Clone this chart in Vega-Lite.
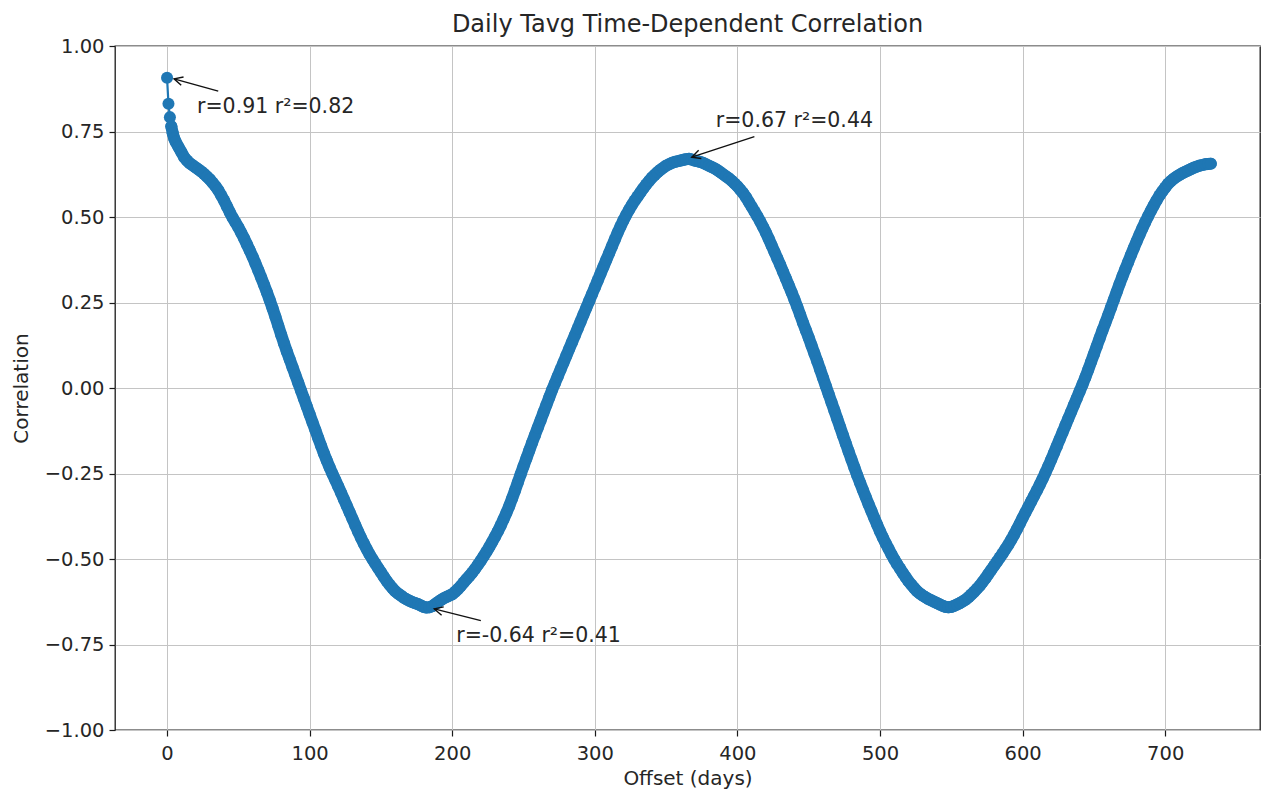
{
  "$schema": "https://vega.github.io/schema/vega-lite/v6.json",
  "width": 1145,
  "height": 684,
  "autosize": "none",
  "padding": {"left": 115, "top": 46, "right": 2, "bottom": 64},
  "background": "white",
  "title": {"text": "Daily Tavg Time-Dependent Correlation", "font": "DejaVu Sans", "fontSize": 24, "fontWeight": "normal", "color": "#262626", "offset": -1, "anchor": "middle"},
  "config": {
    "view": {"stroke": "#1a1a1a", "strokeWidth": 1.3},
    "axis": {
      "domain": false,
      "tickColor": "#1a1a1a",
      "tickSize": 6,
      "tickWidth": 1.2,
      "grid": true,
      "gridColor": "#c4c4c4",
      "gridWidth": 1,
      "labelFont": "DejaVu Sans",
      "labelFontSize": 19.5,
      "labelColor": "#262626",
      "labelPadding": 5,
      "titleFont": "DejaVu Sans",
      "titleFontSize": 20,
      "titleFontWeight": "normal",
      "titleColor": "#262626"
    }
  },
  "datasets": {
    "corr": [
      {"day":0,"r":0.907},{"day":1,"r":0.831},{"day":2,"r":0.792},{"day":3,"r":0.765},{"day":4,"r":0.745},{"day":5,"r":0.730},{"day":6,"r":0.720},
      {"day":8,"r":0.705},{"day":10,"r":0.690},{"day":12,"r":0.675},{"day":14,"r":0.665},{"day":16,"r":0.657},{"day":18,"r":0.651},{"day":20,"r":0.645},
      {"day":22,"r":0.639},{"day":24,"r":0.633},{"day":26,"r":0.626},{"day":28,"r":0.618},{"day":30,"r":0.610},{"day":32,"r":0.600},{"day":34,"r":0.590},
      {"day":36,"r":0.578},{"day":38,"r":0.563},{"day":40,"r":0.548},{"day":42,"r":0.531},{"day":44,"r":0.514},{"day":46,"r":0.498},{"day":48,"r":0.484},
      {"day":50,"r":0.470},{"day":52,"r":0.454},{"day":54,"r":0.438},{"day":56,"r":0.420},{"day":58,"r":0.402},{"day":60,"r":0.384},{"day":62,"r":0.364},
      {"day":64,"r":0.344},{"day":66,"r":0.323},{"day":68,"r":0.302},{"day":70,"r":0.280},{"day":72,"r":0.257},{"day":74,"r":0.233},{"day":76,"r":0.208},
      {"day":78,"r":0.182},{"day":80,"r":0.156},{"day":82,"r":0.131},{"day":84,"r":0.107},{"day":86,"r":0.084},{"day":88,"r":0.061},{"day":90,"r":0.038},
      {"day":92,"r":0.015},{"day":94,"r":-0.008},{"day":96,"r":-0.031},{"day":98,"r":-0.054},{"day":100,"r":-0.077},{"day":102,"r":-0.100},{"day":104,"r":-0.123},
      {"day":106,"r":-0.146},{"day":108,"r":-0.169},{"day":110,"r":-0.191},{"day":112,"r":-0.212},{"day":114,"r":-0.232},{"day":116,"r":-0.251},{"day":118,"r":-0.269},
      {"day":120,"r":-0.287},{"day":122,"r":-0.306},{"day":124,"r":-0.325},{"day":126,"r":-0.344},{"day":128,"r":-0.363},{"day":130,"r":-0.382},{"day":132,"r":-0.401},
      {"day":134,"r":-0.420},{"day":136,"r":-0.438},{"day":138,"r":-0.455},{"day":140,"r":-0.471},{"day":142,"r":-0.486},{"day":144,"r":-0.500},{"day":146,"r":-0.513},
      {"day":148,"r":-0.526},{"day":150,"r":-0.539},{"day":152,"r":-0.552},{"day":154,"r":-0.564},{"day":156,"r":-0.575},{"day":158,"r":-0.585},{"day":160,"r":-0.594},
      {"day":162,"r":-0.601},{"day":164,"r":-0.607},{"day":166,"r":-0.613},{"day":168,"r":-0.618},{"day":170,"r":-0.622},{"day":172,"r":-0.626},{"day":174,"r":-0.629},
      {"day":176,"r":-0.632},{"day":178,"r":-0.636},{"day":180,"r":-0.640},{"day":182,"r":-0.642},{"day":184,"r":-0.641},{"day":186,"r":-0.638},{"day":188,"r":-0.632},
      {"day":190,"r":-0.626},{"day":192,"r":-0.620},{"day":194,"r":-0.615},{"day":196,"r":-0.611},{"day":198,"r":-0.607},{"day":200,"r":-0.603},{"day":202,"r":-0.596},
      {"day":204,"r":-0.588},{"day":206,"r":-0.579},{"day":208,"r":-0.569},{"day":210,"r":-0.559},{"day":212,"r":-0.550},{"day":214,"r":-0.540},{"day":216,"r":-0.529},
      {"day":218,"r":-0.517},{"day":220,"r":-0.505},{"day":222,"r":-0.492},{"day":224,"r":-0.479},{"day":226,"r":-0.465},{"day":228,"r":-0.450},{"day":230,"r":-0.435},
      {"day":232,"r":-0.419},{"day":234,"r":-0.402},{"day":236,"r":-0.384},{"day":238,"r":-0.365},{"day":240,"r":-0.345},{"day":242,"r":-0.323},{"day":244,"r":-0.300},
      {"day":246,"r":-0.276},{"day":248,"r":-0.252},{"day":250,"r":-0.229},{"day":252,"r":-0.206},{"day":254,"r":-0.183},{"day":256,"r":-0.160},{"day":258,"r":-0.138},
      {"day":260,"r":-0.116},{"day":262,"r":-0.094},{"day":264,"r":-0.072},{"day":266,"r":-0.050},{"day":268,"r":-0.028},{"day":270,"r":-0.006},{"day":272,"r":0.014},
      {"day":274,"r":0.034},{"day":276,"r":0.054},{"day":278,"r":0.074},{"day":280,"r":0.094},{"day":282,"r":0.114},{"day":284,"r":0.134},{"day":286,"r":0.154},
      {"day":288,"r":0.174},{"day":290,"r":0.194},{"day":292,"r":0.214},{"day":294,"r":0.234},{"day":296,"r":0.254},{"day":298,"r":0.274},{"day":300,"r":0.294},
      {"day":302,"r":0.314},{"day":304,"r":0.334},{"day":306,"r":0.354},{"day":308,"r":0.374},{"day":310,"r":0.394},{"day":312,"r":0.414},{"day":314,"r":0.434},
      {"day":316,"r":0.454},{"day":318,"r":0.472},{"day":320,"r":0.490},{"day":322,"r":0.506},{"day":324,"r":0.521},{"day":326,"r":0.535},{"day":328,"r":0.548},
      {"day":330,"r":0.560},{"day":332,"r":0.572},{"day":334,"r":0.584},{"day":336,"r":0.595},{"day":338,"r":0.605},{"day":340,"r":0.615},{"day":342,"r":0.623},
      {"day":344,"r":0.631},{"day":346,"r":0.638},{"day":348,"r":0.644},{"day":350,"r":0.650},{"day":352,"r":0.654},{"day":354,"r":0.658},{"day":356,"r":0.661},
      {"day":358,"r":0.663},{"day":360,"r":0.665},{"day":362,"r":0.667},{"day":364,"r":0.669},{"day":366,"r":0.670},{"day":368,"r":0.668},{"day":370,"r":0.665},
      {"day":372,"r":0.663},{"day":374,"r":0.661},{"day":376,"r":0.658},{"day":378,"r":0.654},{"day":380,"r":0.650},{"day":382,"r":0.646},{"day":384,"r":0.642},
      {"day":386,"r":0.637},{"day":388,"r":0.631},{"day":390,"r":0.625},{"day":392,"r":0.619},{"day":394,"r":0.613},{"day":396,"r":0.606},{"day":398,"r":0.598},
      {"day":400,"r":0.590},{"day":402,"r":0.580},{"day":404,"r":0.570},{"day":406,"r":0.558},{"day":408,"r":0.544},{"day":410,"r":0.530},{"day":412,"r":0.516},
      {"day":414,"r":0.502},{"day":416,"r":0.487},{"day":418,"r":0.471},{"day":420,"r":0.454},{"day":422,"r":0.436},{"day":424,"r":0.417},{"day":426,"r":0.398},
      {"day":428,"r":0.379},{"day":430,"r":0.360},{"day":432,"r":0.340},{"day":434,"r":0.320},{"day":436,"r":0.300},{"day":438,"r":0.280},{"day":440,"r":0.259},
      {"day":442,"r":0.237},{"day":444,"r":0.214},{"day":446,"r":0.191},{"day":448,"r":0.169},{"day":450,"r":0.147},{"day":452,"r":0.124},{"day":454,"r":0.101},
      {"day":456,"r":0.078},{"day":458,"r":0.054},{"day":460,"r":0.030},{"day":462,"r":0.006},{"day":464,"r":-0.018},{"day":466,"r":-0.042},{"day":468,"r":-0.066},
      {"day":470,"r":-0.090},{"day":472,"r":-0.114},{"day":474,"r":-0.138},{"day":476,"r":-0.162},{"day":478,"r":-0.186},{"day":480,"r":-0.209},{"day":482,"r":-0.232},
      {"day":484,"r":-0.255},{"day":486,"r":-0.277},{"day":488,"r":-0.298},{"day":490,"r":-0.319},{"day":492,"r":-0.340},{"day":494,"r":-0.360},{"day":496,"r":-0.380},
      {"day":498,"r":-0.400},{"day":500,"r":-0.419},{"day":502,"r":-0.437},{"day":504,"r":-0.454},{"day":506,"r":-0.470},{"day":508,"r":-0.486},{"day":510,"r":-0.501},
      {"day":512,"r":-0.515},{"day":514,"r":-0.528},{"day":516,"r":-0.541},{"day":518,"r":-0.553},{"day":520,"r":-0.565},{"day":522,"r":-0.575},{"day":524,"r":-0.585},
      {"day":526,"r":-0.594},{"day":528,"r":-0.601},{"day":530,"r":-0.607},{"day":532,"r":-0.612},{"day":534,"r":-0.617},{"day":536,"r":-0.621},{"day":538,"r":-0.625},
      {"day":540,"r":-0.629},{"day":542,"r":-0.633},{"day":544,"r":-0.637},{"day":546,"r":-0.640},{"day":548,"r":-0.641},{"day":550,"r":-0.640},{"day":552,"r":-0.637},
      {"day":554,"r":-0.633},{"day":556,"r":-0.629},{"day":558,"r":-0.624},{"day":560,"r":-0.619},{"day":562,"r":-0.612},{"day":564,"r":-0.604},{"day":566,"r":-0.596},
      {"day":568,"r":-0.587},{"day":570,"r":-0.578},{"day":572,"r":-0.567},{"day":574,"r":-0.556},{"day":576,"r":-0.544},{"day":578,"r":-0.532},{"day":580,"r":-0.520},
      {"day":582,"r":-0.508},{"day":584,"r":-0.496},{"day":586,"r":-0.484},{"day":588,"r":-0.471},{"day":590,"r":-0.458},{"day":592,"r":-0.444},{"day":594,"r":-0.429},
      {"day":596,"r":-0.413},{"day":598,"r":-0.397},{"day":600,"r":-0.380},{"day":602,"r":-0.364},{"day":604,"r":-0.348},{"day":606,"r":-0.332},{"day":608,"r":-0.316},
      {"day":610,"r":-0.300},{"day":612,"r":-0.283},{"day":614,"r":-0.266},{"day":616,"r":-0.248},{"day":618,"r":-0.229},{"day":620,"r":-0.210},{"day":622,"r":-0.190},
      {"day":624,"r":-0.170},{"day":626,"r":-0.150},{"day":628,"r":-0.130},{"day":630,"r":-0.110},{"day":632,"r":-0.090},{"day":634,"r":-0.070},{"day":636,"r":-0.050},
      {"day":638,"r":-0.030},{"day":640,"r":-0.010},{"day":642,"r":0.010},{"day":644,"r":0.031},{"day":646,"r":0.053},{"day":648,"r":0.076},{"day":650,"r":0.099},
      {"day":652,"r":0.122},{"day":654,"r":0.145},{"day":656,"r":0.168},{"day":658,"r":0.190},{"day":660,"r":0.212},{"day":662,"r":0.235},{"day":664,"r":0.258},
      {"day":666,"r":0.281},{"day":668,"r":0.304},{"day":670,"r":0.326},{"day":672,"r":0.347},{"day":674,"r":0.368},{"day":676,"r":0.389},{"day":678,"r":0.409},
      {"day":680,"r":0.429},{"day":682,"r":0.448},{"day":684,"r":0.467},{"day":686,"r":0.485},{"day":688,"r":0.502},{"day":690,"r":0.518},{"day":692,"r":0.534},
      {"day":694,"r":0.549},{"day":696,"r":0.563},{"day":698,"r":0.575},{"day":700,"r":0.586},{"day":702,"r":0.597},{"day":704,"r":0.605},{"day":706,"r":0.612},
      {"day":708,"r":0.618},{"day":710,"r":0.623},{"day":712,"r":0.628},{"day":714,"r":0.632},{"day":716,"r":0.636},{"day":718,"r":0.640},{"day":720,"r":0.644},
      {"day":722,"r":0.647},{"day":724,"r":0.650},{"day":726,"r":0.652},{"day":728,"r":0.654},{"day":730,"r":0.655},{"day":732,"r":0.656}
    ],
    "notes": [
      {"label": "r=0.91 r²=0.82", "day": 21, "r": 0.803, "day2": 4.9, "r2": 0.904, "tailDay": 35.9, "tailR": 0.868},
      {"label": "r=-0.64 r²=0.41", "day": 202.8, "r": -0.744, "day2": 187.4, "r2": -0.646, "tailDay": 220.1, "tailR": -0.68},
      {"label": "r=0.67 r²=0.44", "day": 384.8, "r": 0.762, "day2": 368.0, "r2": 0.675, "tailDay": 411.9, "tailR": 0.735}
    ]
  },
  "layer": [
    {
      "data": {"name": "corr"},
      "mark": {"type": "line", "color": "#1f77b4", "strokeWidth": 2.2},
      "encoding": {
        "x": {"field": "day", "type": "quantitative", "scale": {"domain": [-36.5, 766.5], "nice": false, "zero": false}, "axis": {"title": "Offset (days)", "values": [0, 100, 200, 300, 400, 500, 600, 700], "labelPadding": 8, "titlePadding": 6}},
        "y": {"field": "r", "type": "quantitative", "scale": {"domain": [-1, 1], "nice": false, "zero": false}, "axis": {"title": "Correlation", "values": [-1, -0.75, -0.5, -0.25, 0, 0.25, 0.5, 0.75, 1], "format": ".2f", "titlePadding": 13}}
      }
    },
    {
      "data": {"name": "corr"},
      "transform": [{"filter": "datum.day >= 3"}],
      "mark": {"type": "line", "color": "#1f77b4", "strokeWidth": 12, "strokeCap": "round", "strokeJoin": "round"},
      "encoding": {
        "x": {"field": "day", "type": "quantitative"},
        "y": {"field": "r", "type": "quantitative"}
      }
    },
    {
      "data": {"name": "corr"},
      "mark": {"type": "point", "shape": "circle", "filled": true, "color": "#1f77b4", "opacity": 1, "size": 145},
      "encoding": {
        "x": {"field": "day", "type": "quantitative"},
        "y": {"field": "r", "type": "quantitative"}
      }
    },
    {
      "data": {"name": "notes"},
      "mark": {"type": "rule", "color": "#111111", "strokeWidth": 1.4},
      "encoding": {
        "x": {"field": "tailDay", "type": "quantitative"},
        "y": {"field": "tailR", "type": "quantitative"},
        "x2": {"field": "day2"},
        "y2": {"field": "r2"}
      }
    },
    {
      "data": {"values": [{"day": 4.9, "r": 0.904}]},
      "mark": {"type": "point", "shape": "M-1,-0.5L0,0L-1,0.5", "filled": false, "stroke": "#111111", "strokeWidth": 1.4, "opacity": 1, "size": 300, "angle": 195.6},
      "encoding": {"x": {"field": "day", "type": "quantitative"}, "y": {"field": "r", "type": "quantitative"}}
    },
    {
      "data": {"values": [{"day": 187.4, "r": -0.646}]},
      "mark": {"type": "point", "shape": "M-1,-0.5L0,0L-1,0.5", "filled": false, "stroke": "#111111", "strokeWidth": 1.4, "opacity": 1, "size": 300, "angle": 194.1},
      "encoding": {"x": {"field": "day", "type": "quantitative"}, "y": {"field": "r", "type": "quantitative"}}
    },
    {
      "data": {"values": [{"day": 368.0, "r": 0.675}]},
      "mark": {"type": "point", "shape": "M-1,-0.5L0,0L-1,0.5", "filled": false, "stroke": "#111111", "strokeWidth": 1.4, "opacity": 1, "size": 300, "angle": 161.7},
      "encoding": {"x": {"field": "day", "type": "quantitative"}, "y": {"field": "r", "type": "quantitative"}}
    },
    {
      "data": {"name": "notes"},
      "mark": {"type": "text", "align": "left", "baseline": "alphabetic", "font": "DejaVu Sans", "fontSize": 20.5, "color": "#262626"},
      "encoding": {
        "x": {"field": "day", "type": "quantitative"},
        "y": {"field": "r", "type": "quantitative"},
        "text": {"field": "label"}
      }
    }
  ]
}
